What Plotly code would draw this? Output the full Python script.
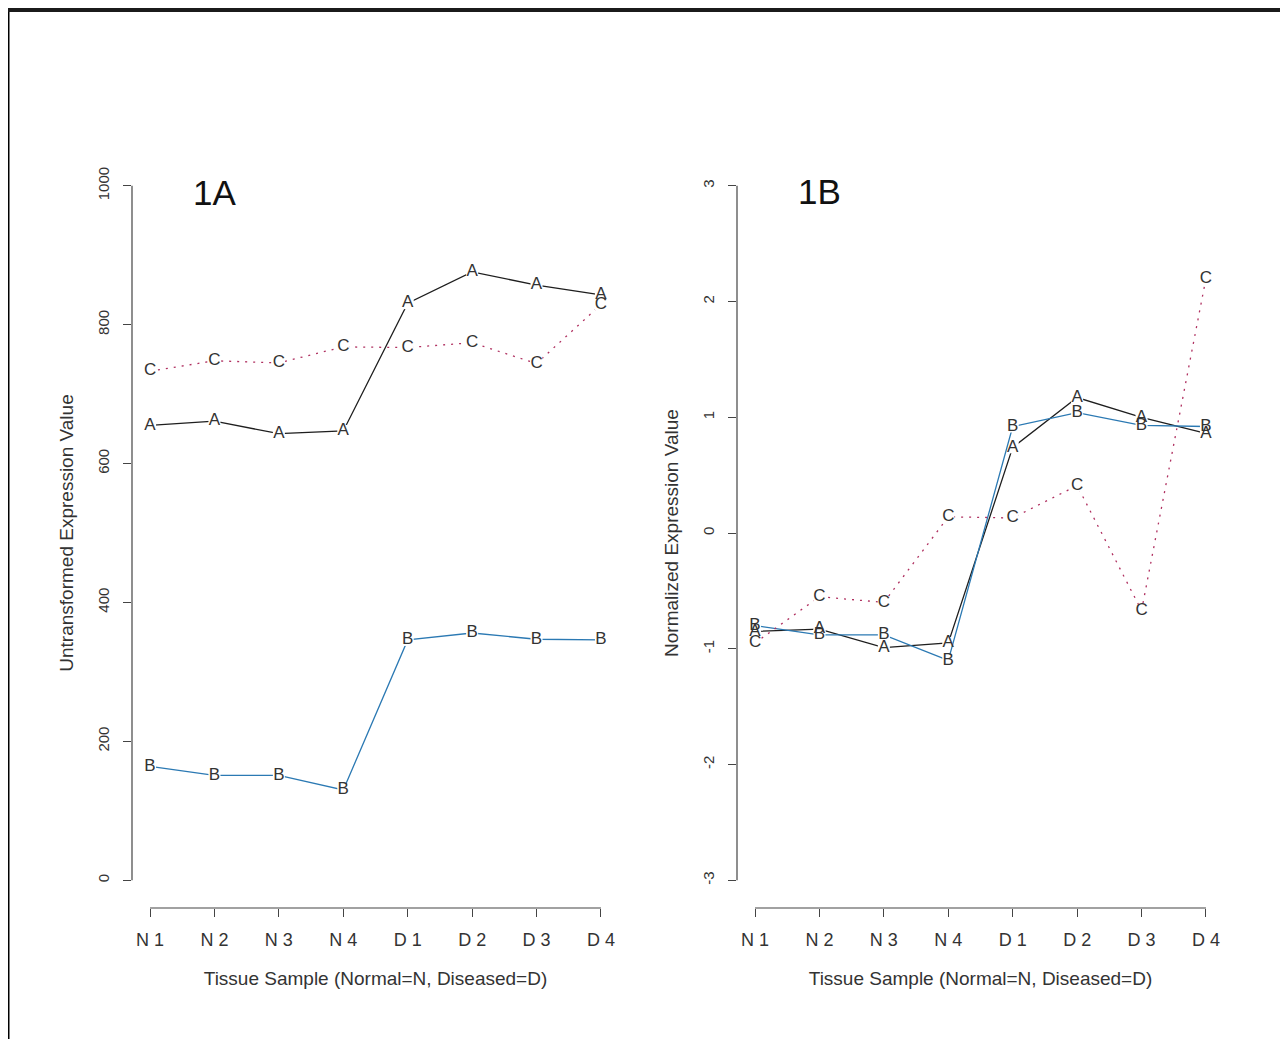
import plotly.graph_objects as go

# ---- data ----
samples = ["N 1", "N 2", "N 3", "N 4", "D 1", "D 2", "D 3", "D 4"]
raw_A = [655, 661, 643, 647, 831, 876, 857, 843]
raw_B = [164, 151, 151, 130, 346, 356, 347, 346]
raw_C = [733, 748, 745, 768, 767, 774, 744, 829]
norm_A = [-0.85, -0.83, -0.99, -0.95, 0.74, 1.17, 1.00, 0.86]
norm_B = [-0.80, -0.88, -0.88, -1.10, 0.92, 1.04, 0.93, 0.92]
norm_C = [-0.95, -0.55, -0.60, 0.14, 0.13, 0.41, -0.67, 2.20]
raw_ticks = [0, 200, 400, 600, 800, 1000]
norm_ticks = [-3, -2, -1, 0, 1, 2, 3]
panel_titles = ["1A", "1B"]
x_title = "Tissue Sample (Normal=N, Diseased=D)"
y_titles = ["Untransformed Expression Value", "Normalized Expression Value"]

xpos = list(range(1, len(samples) + 1))

# page body has an 8px margin: the figure starts at page (8, 8)
OFF = 8
W, H = 1280, 1031
COL_A = "#1e1e1e"
COL_B = "#2b79b3"
COL_C = "#b03060"
AXC = "#444444"
TXT = "#333333"
FONT = "Liberation Sans, Arial, sans-serif"

fig = go.Figure()

series = [
    ("A", COL_A, "solid"),
    ("B", COL_B, "solid"),
    ("C", COL_C, "2px,6px"),
]

panels = [
    ("x", "y", [raw_A, raw_B, raw_C]),
    ("x2", "y2", [norm_A, norm_B, norm_C]),
]

for xa, ya, vals in panels:
    for (lab, col, dash), v in zip(series, vals):
        fig.add_trace(go.Scatter(
            x=xpos, y=v, xaxis=xa, yaxis=ya, mode="lines+markers",
            line=dict(color=col, width=1.3, dash=dash),
            marker=dict(color="white", size=12, symbol="square", line=dict(width=0)),
            showlegend=False, hoverinfo="skip"))
    for (lab, col, dash), v in zip(series, vals):
        fig.add_trace(go.Scatter(
            x=xpos, y=v, xaxis=xa, yaxis=ya, mode="text",
            text=[lab] * len(v), textposition="middle center",
            textfont=dict(family=FONT, size=17, color=TXT),
            showlegend=False, hoverinfo="skip"))


def px_x(p):
    return (p - OFF) / W


def px_y(p):
    return 1 - (p - OFF) / H


ydom = [px_y(908), px_y(158)]
xdoms = [[px_x(132), px_x(619)], [px_x(737), px_x(1224)]]

common_x = dict(
    tickvals=xpos, ticktext=samples, range=[0.72, 8.28],
    showgrid=False, zeroline=False, showline=False,
    ticks="outside", ticklen=8, tickwidth=1, tickcolor=AXC,
    ticklabelstandoff=7,
    tickfont=dict(family=FONT, size=18, color=TXT),
    title=dict(text=x_title, font=dict(family=FONT, size=19, color=TXT), standoff=23),
    automargin=False, fixedrange=True,
)
common_y = dict(
    showgrid=False, zeroline=False, showline=False,
    ticks="outside", ticklen=8, tickwidth=1, tickcolor=AXC,
    tickangle=-90, ticklabelstandoff=8,
    tickfont=dict(family=FONT, size=15, color=TXT),
    automargin=False, fixedrange=True,
)

fig.update_layout(
    width=W, height=H,
    margin=dict(l=0, r=0, t=0, b=0),
    paper_bgcolor="white", plot_bgcolor="white",
    xaxis=dict(domain=xdoms[0], anchor="y", **common_x),
    xaxis2=dict(domain=xdoms[1], anchor="y2", **common_x),
    yaxis=dict(domain=ydom, anchor="x", range=[-40, 1040], tickvals=raw_ticks,
               ticktext=[str(t) for t in raw_ticks],
               title=dict(text=y_titles[0], font=dict(family=FONT, size=19, color=TXT), standoff=16),
               **common_y),
    yaxis2=dict(domain=ydom, anchor="x2", range=[-3.24, 3.24], tickvals=norm_ticks,
                ticktext=[str(t) for t in norm_ticks],
                title=dict(text=y_titles[1], font=dict(family=FONT, size=19, color=TXT), standoff=16),
                **common_y),
)

# panel titles
for i, (xa, ya, top) in enumerate([("x", "y", 990), ("x2", "y2", 2.95)]):
    fig.add_annotation(x=2, y=top, xref=xa, yref=ya, text=panel_titles[i],
                       showarrow=False, font=dict(family=FONT, size=35, color="#111111"))

# R-style axis lines (only across tick span)
for xa, ya, yt in [("x", "y", raw_ticks), ("x2", "y2", norm_ticks)]:
    fig.add_shape(type="line", xref=xa + " domain", yref=ya, x0=0, x1=0,
                  y0=min(yt), y1=max(yt), line=dict(color=AXC, width=1.2))
    fig.add_shape(type="line", xref=xa, yref=ya + " domain", x0=xpos[0], x1=xpos[-1],
                  y0=0, y1=0, line=dict(color=AXC, width=1.2))

# page frame: dark top bar and left border
fig.add_shape(type="rect", xref="paper", yref="paper", x0=-0.01, x1=1.01,
              y0=px_y(12), y1=1.02, fillcolor="#1b1b1b", line=dict(width=0), layer="above")
fig.add_shape(type="rect", xref="paper", yref="paper", x0=px_x(6.5), x1=px_x(9.5),
              y0=-0.01, y1=px_y(12), fillcolor="#000000", line=dict(width=0), layer="above")

fig.write_html("out.html")
